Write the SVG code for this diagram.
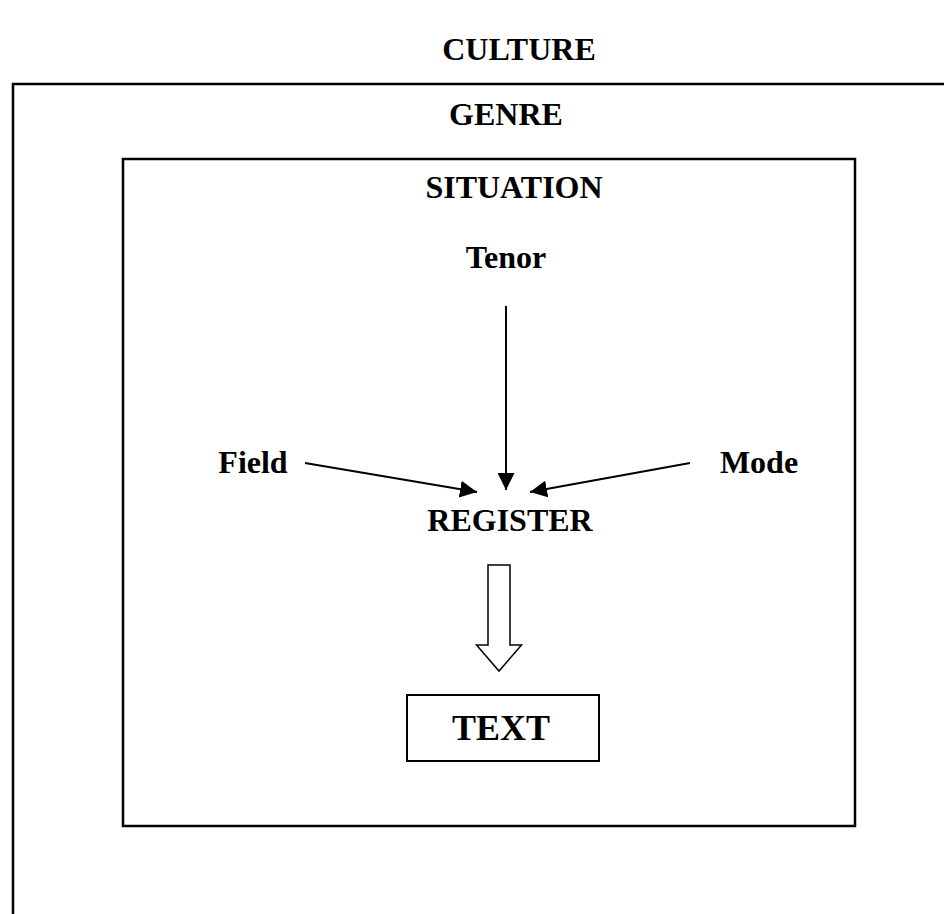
<svg xmlns="http://www.w3.org/2000/svg" width="944" height="914" viewBox="0 0 944 914">
<defs>
<style>
text{font-family:"Liberation Serif","Times New Roman",serif;font-weight:bold;fill:#000;text-anchor:middle;font-size:32px}
.box{fill:none;stroke:#000;stroke-width:2.5}
.ln{fill:none;stroke:#000;stroke-width:2}
</style>
<marker id="ah" viewBox="0 0 10 10" refX="10" refY="5" markerWidth="8" markerHeight="8" markerUnits="userSpaceOnUse" orient="auto"><path d="M0,0 L10,5 L0,10 Z" fill="#000"/></marker>
<marker id="ah2" viewBox="0 0 10 10" refX="10" refY="5" markerWidth="17" markerHeight="17" markerUnits="userSpaceOnUse" orient="auto"><path d="M0,0 L10,5 L0,10 Z" fill="#000"/></marker>
</defs>
<rect width="944" height="914" fill="#fff"/>
<text x="519" y="60">CULTURE</text>
<g id="culture-box"><path class="box" d="M13,914 V84 H946"/></g>
<text x="506" y="125">GENRE</text>
<g id="situation"><rect class="box" x="123" y="159" width="732" height="667"/><text x="514" y="198">SITUATION</text></g>
<g id="tenor"><text x="506" y="268">Tenor</text></g>
<g id="field"><text x="253" y="473">Field</text></g>
<g id="mode"><text x="759" y="473">Mode</text></g>
<g id="register"><text x="510" y="531">REGISTER</text></g>
<g id="text-node"><rect x="407" y="695" width="192" height="66" fill="none" stroke="#000" stroke-width="2"/><text x="501" y="740" style="font-size:36px">TEXT</text></g>
<g id="connectors">
<line class="ln" x1="506" y1="306" x2="506" y2="490" marker-end="url(#ah2)"/>
<line class="ln" x1="305" y1="463" x2="477" y2="492" marker-end="url(#ah2)"/>
<line class="ln" x1="690" y1="463" x2="530" y2="492" marker-end="url(#ah2)"/>
<path d="M488,565 H510 V645 H521.5 L499,671 L476.5,645 H488 Z" fill="#fff" stroke="#000" stroke-width="1.5"/>
</g>
</svg>
